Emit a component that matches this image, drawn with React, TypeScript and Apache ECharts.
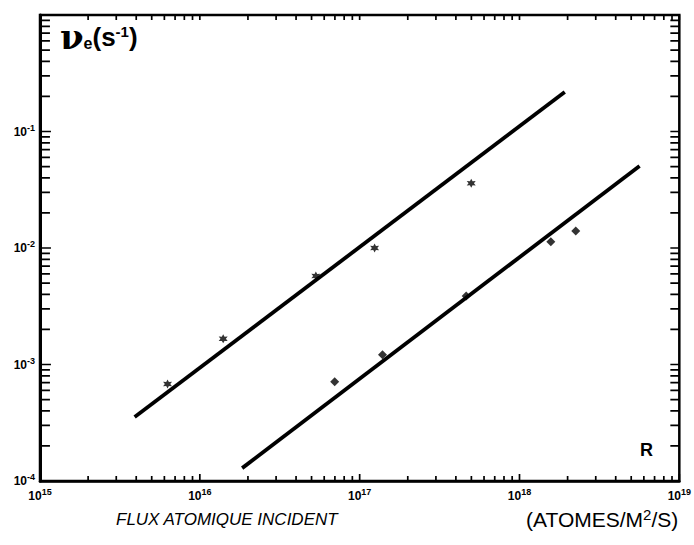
import React, { useEffect, useRef } from "react";
import * as echarts from "echarts";

// Axis ranges
const X_MIN = 1e15;
const X_MAX = 1e19;
const Y_MIN = 1e-4;
const Y_MAX = 1;

// Decades used for tick marks
const xDecades = [15, 16, 17, 18];
const yDecades = [-4, -3, -2, -1];
const tickMultipliers = [1, 2, 3, 4, 5, 6, 7, 8, 9];

// Measured points: stars (upper series)
const starX = [6.28e15, 1.4e16, 5.32e16, 1.24e17, 4.99e17];
const starY = [6.8e-4, 1.66e-3, 5.75e-3, 1.0e-2, 3.6e-2];

// Measured points: diamonds (lower series)
const diamondX = [6.98e16, 1.39e17, 4.64e17, 1.57e18, 2.25e18];
const diamondY = [7.1e-4, 1.21e-3, 3.87e-3, 1.13e-2, 1.4e-2];

// Fitted lines (end points)
const upperLineX = [3.91e15, 1.92e18];
const upperLineY = [3.54e-4, 0.218];
const lowerLineX = [1.84e16, 5.64e18];
const lowerLineY = [1.29e-4, 0.0506];

const STAR_PATH =
  "path://M0,-10 L2.6,-4.5 L8.7,-5 L5.2,0 L8.7,5 L2.6,4.5 L0,10 L-2.6,4.5 L-8.7,5 L-5.2,0 L-8.7,-5 L-2.6,-4.5 Z";

function pairs(xs: number[], ys: number[]) {
  return xs.map((x, i) => [x, ys[i]]);
}

function tickValues(decades: number[], last: number) {
  const vals: number[] = [];
  decades.forEach((d) => tickMultipliers.forEach((m) => vals.push(m * Math.pow(10, d))));
  vals.push(last);
  return vals;
}

const xTickVals = tickValues(xDecades, X_MAX);
const yTickVals = tickValues(yDecades, Y_MAX);

// tick lengths as multiplicative steps on the log axes
const BOTTOM_MINOR = 1.104;
const BOTTOM_MAJOR = 1.148;
const TOP_MINOR = 1.104;
const LEFT_MINOR = 1.154;
const LEFT_MAJOR = 1.171;
const RIGHT_MINOR = 1.138;

function tickLine(a: number[], b: number[]) {
  return {
    type: "line",
    data: [a, b],
    showSymbol: false,
    silent: true,
    lineStyle: { color: "#000", width: 1.7 },
    z: 3,
  };
}

function buildTickSeries() {
  const out: any[] = [];
  xTickVals.forEach((v, i) => {
    const major = i % 9 === 0;
    out.push(tickLine([v, Y_MIN], [v, Y_MIN * (major ? BOTTOM_MAJOR : BOTTOM_MINOR)]));
    out.push(tickLine([v, Y_MAX], [v, Y_MAX / TOP_MINOR]));
  });
  yTickVals.forEach((v, i) => {
    const major = i % 9 === 0;
    out.push(tickLine([X_MIN, v], [X_MIN * (major ? LEFT_MAJOR : LEFT_MINOR), v]));
    out.push(tickLine([X_MAX, v], [X_MAX / RIGHT_MINOR, v]));
  });
  return out;
}

function powLabel(v: number, hide?: number) {
  const e = Math.round(Math.log10(v));
  if (hide !== undefined && e === hide) return "";
  return `{b|10}{s|${e}}`;
}

export default function App() {
  const ref = useRef<HTMLDivElement>(null);
  useEffect(() => {
    if (!ref.current) return;
    const chart = echarts.init(ref.current, undefined, { renderer: "svg" });
    const labelRich = {
      b: { fontSize: 12, fontWeight: "bold", fontFamily: "Liberation Sans Narrow, Liberation Sans", color: "#000" },
      s: { fontSize: 9, fontWeight: "bold", fontFamily: "Liberation Sans", color: "#000", padding: [0, 0, 8, 0] },
    };
    chart.setOption({
      animation: false,
      backgroundColor: "#fff",
      grid: {
        left: 40,
        right: 12,
        top: 15,
        bottom: 64,
        show: true,
        borderColor: "#000",
        borderWidth: 2.5,
      },
      xAxis: {
        type: "log",
        logBase: 10,
        min: X_MIN,
        max: X_MAX,
        splitNumber: 4,
        axisLine: { show: true, lineStyle: { color: "#000", width: 2.5 } },
        axisTick: { show: false },
        splitLine: { show: false },
        axisLabel: {
          margin: 6,
          formatter: (v: number) => powLabel(v),
          rich: labelRich,
        },
      },
      yAxis: {
        type: "log",
        logBase: 10,
        min: Y_MIN,
        max: Y_MAX,
        splitNumber: 4,
        axisLine: { show: true, lineStyle: { color: "#000", width: 3 } },
        axisTick: { show: false },
        splitLine: { show: false },
        axisLabel: {
          margin: 5,
          formatter: (v: number) => powLabel(v, 0),
          rich: labelRich,
        },
      },
      series: [
        {
          type: "line",
          data: pairs(upperLineX, upperLineY),
          showSymbol: false,
          lineStyle: { color: "#000", width: 3.8 },
          silent: true,
        },
        {
          type: "line",
          data: pairs(lowerLineX, lowerLineY),
          showSymbol: false,
          lineStyle: { color: "#000", width: 3.8 },
          silent: true,
        },
        {
          type: "scatter",
          data: pairs(starX, starY),
          symbol: STAR_PATH,
          symbolSize: 9,
          itemStyle: { color: "#000" },
          z: 5,
        },
        {
          type: "scatter",
          data: pairs(diamondX, diamondY),
          symbol: "diamond",
          symbolSize: 9,
          itemStyle: { color: "#000" },
          z: 5,
        },
        ...buildTickSeries(),
      ],
      graphic: [
        {
          type: "text",
          left: 60,
          top: 20,
          style: {
            text: "{v|ν}{e|e}{p|(s}{s|-1}{p|)}",
            rich: {
              v: { fontSize: 34, fontWeight: "bold", fontFamily: "DejaVu Serif", fill: "#000" },
              e: { fontSize: 16, fontWeight: "bold", fontFamily: "Liberation Sans", fill: "#000", padding: [12, 0, 0, 0] },
              p: { fontSize: 26, fontWeight: "bold", fontFamily: "Liberation Sans", fill: "#000" },
              s: { fontSize: 15, fontWeight: "bold", fontFamily: "Liberation Sans", fill: "#000", padding: [0, 0, 12, 0] },
            },
          },
        },
        {
          type: "text",
          left: 640,
          top: 441,
          style: { text: "R", fontSize: 18, fontWeight: "bold", fontFamily: "Liberation Sans", fill: "#000" },
        },
        {
          type: "text",
          left: 116,
          top: 511,
          style: {
            text: "FLUX ATOMIQUE INCIDENT",
            fontSize: 17,
            fontStyle: "italic",
            fontFamily: "Liberation Sans",
            fill: "#000",
          },
        },
        {
          type: "text",
          left: 526,
          top: 507,
          style: {
            text: "(ATOMES/M{s|2}/S)",
            fontSize: 21,
            fontFamily: "Liberation Sans",
            fill: "#000",
            rich: {
              s: { fontSize: 15, fontFamily: "Liberation Sans", fill: "#000", padding: [0, 0, 10, 0] },
            },
          },
        },
      ],
    });
    return () => chart.dispose();
  }, []);
  return (
    <div
      ref={ref}
      style={{ position: "fixed", left: 0, top: 0, width: 694, height: 545, background: "#fff" }}
    />
  );
}
